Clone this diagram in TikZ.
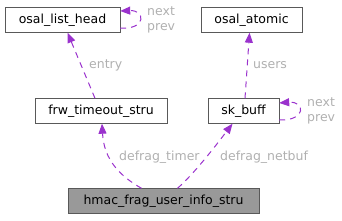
\documentclass[tikz,border=0pt]{standalone}
\usepackage{fontspec}
\setmainfont{DejaVu Sans}
\usetikzlibrary{arrows.meta}
\definecolor{edgecol}{HTML}{9A32CD}
\definecolor{lblcol}{HTML}{B0B0B0}
\definecolor{boxgray}{HTML}{999999}

\tikzset{
  cls/.style={draw=black!65, fill=white, minimum height=25pt, inner sep=0pt,
    font=\fontsize{12.5}{15}\selectfont},
  rel/.style={draw=edgecol, dashed, dash pattern=on 6pt off 5pt, line width=1pt,
    -{Triangle[length=10pt,width=8pt]}},
  lbl/.style={text=lblcol, font=\fontsize{12.5}{14.5}\selectfont, inner sep=0pt, align=left}
}

\begin{document}
\begin{tikzpicture}[x=1pt,y=-1pt]
    \useasboundingbox (0,0) rectangle (342,220);
    \node[cls, minimum width=115pt] (listhead) at (62.5,20) {osal\_list\_head};
    \node[cls, minimum width=101pt] (atomic) at (251.5,20) {osal\_atomic};
    \node[cls, minimum width=132pt] (timeout) at (101,111) {frw\_timeout\_stru};
    \node[cls, minimum width=71pt] (skbuff) at (243.5,111) {sk\_buff};
    \node[cls, minimum width=191pt, fill=boxgray] (userinfo) at (163.5,201) {hmac\_frag\_user\_info\_stru};

    \draw[rel] ([xshift=-6pt]timeout.north) -- ([xshift=5pt]listhead.south);
    \draw[rel] ([xshift=1.5pt]skbuff.north) -- ([xshift=-2pt]atomic.south);
    \draw[rel] ([xshift=-22pt]userinfo.north) .. controls (120,176) and (104,160) .. ([xshift=1pt]timeout.south);
    \draw[rel] ([xshift=14pt]userinfo.north) .. controls (196,172) and (220,140) .. ([xshift=-11pt]skbuff.south);
    \draw[rel] ([yshift=-8pt]listhead.east) .. controls (146,30) and (146,10) .. ([yshift=9pt]listhead.east);
    \draw[rel] ([yshift=-9pt]skbuff.east) .. controls (306,121) and (306,101) .. ([yshift=8pt]skbuff.east);

    \node[lbl, anchor=west] (lblloop1) at (147,20) {next\\prev};
    \node[lbl, anchor=west] (lblloop2) at (307,111) {next\\prev};
    \node[lbl, anchor=west] (lblentry) at (89,65) {entry};
    \node[lbl, anchor=west] (lblusers) at (253,65) {users};
    \node[lbl, anchor=west] (lbltimer) at (119,157) {defrag\_timer};
    \node[lbl, anchor=west] (lblnetbuf) at (220,157) {defrag\_netbuf};
 \end{tikzpicture}
\end{document}
